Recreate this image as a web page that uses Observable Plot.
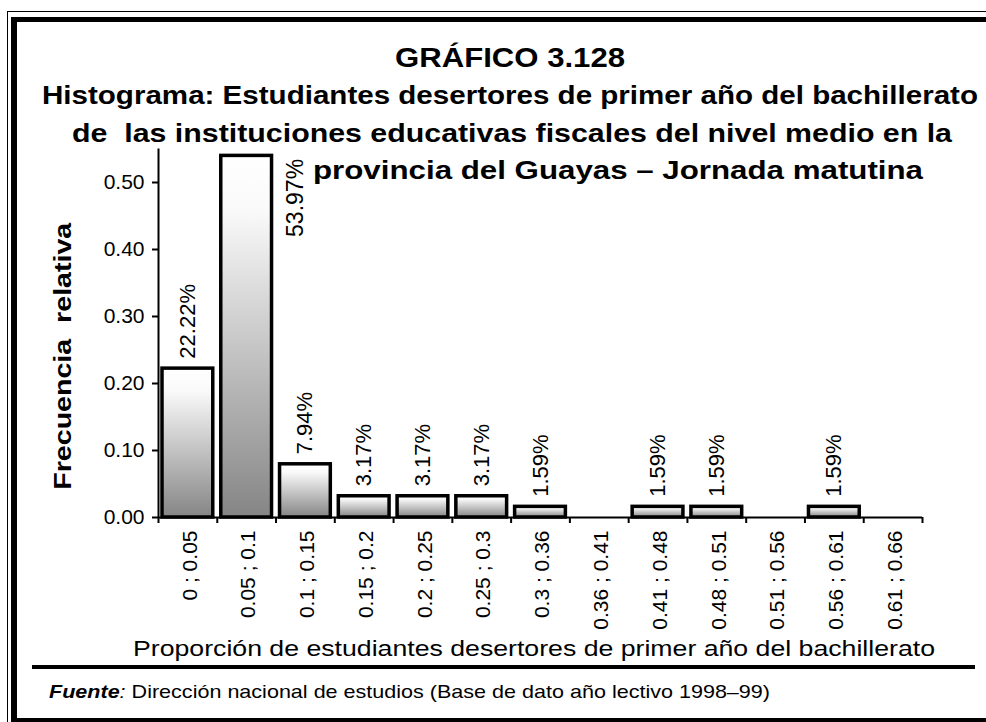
<!DOCTYPE html>
<html><head><meta charset="utf-8">
<script src="https://cdn.jsdelivr.net/npm/d3@7"></script>
<script src="https://cdn.jsdelivr.net/npm/@observablehq/plot@0.6"></script>
<style>
html,body{margin:0;padding:0;background:#fff}
#wrap{position:relative;width:986px;height:722px;overflow:hidden;background:#fff;font-family:"Liberation Sans",Arial,sans-serif;color:#000}
#chart{position:absolute;left:0;top:0}
.txt{position:absolute;white-space:pre;transform-origin:0 0;margin:0}
.fr{position:absolute;box-sizing:border-box;pointer-events:none}
</style></head>
<body>
<div id="wrap">
  <div id="chart"></div>
  <div class="fr" style="left:7px;top:11px;width:1200px;height:900px;border-left:1.5px solid #000;border-top:1.5px solid #000"></div>
  <div class="fr" style="left:11px;top:17px;width:1200px;height:707px;border:6px solid #000;border-top-width:5px"></div>
  <div class="fr" style="left:32px;top:665px;width:943px;height:4px;background:#000"></div>
  <div id="t1" class="txt" style="font-weight:bold"></div>
  <div id="t2" class="txt" style="font-weight:bold"></div>
  <div id="t3" class="txt" style="font-weight:bold"></div>
  <div id="t4" class="txt" style="font-weight:bold"></div>
  <div id="xlab" class="txt"></div>
  <div id="src" class="txt"></div>
</div>
<script>
// ---- data ----
const categories = ["0 ; 0.05","0.05 ; 0.1","0.1 ; 0.15","0.15 ; 0.2","0.2 ; 0.25","0.25 ; 0.3","0.3 ; 0.36","0.36 ; 0.41","0.41 ; 0.48","0.48 ; 0.51","0.51 ; 0.56","0.56 ; 0.61","0.61 ; 0.66"];
const frequencies = [0.2222,0.5397,0.0794,0.0317,0.0317,0.0317,0.0159,0,0.0159,0.0159,0,0.0159,0];
const yTicks = [0,0.1,0.2,0.3,0.4,0.5];
const yMax = 0.55;
const titleLines = [
  "GRÁFICO 3.128",
  "Histograma: Estudiantes desertores de primer año del bachillerato",
  "de  las instituciones educativas fiscales del nivel medio en la",
  "provincia del Guayas – Jornada matutina"
];
const xTitle = "Proporción de estudiantes desertores de primer año del bachillerato";
const yTitle = "Frecuencia\u00a0 relativa";
const sourceLead = "Fuente";
const sourceText = " Dirección nacional de estudios (Base de dato año lectivo 1998–99)";

// ---- table ----
const bins = categories.map((label, i) => ({i, label, value: frequencies[i]}));
const n = categories.length;
const pct = d3.format(".2%");
const maxBin = bins.reduce((a, b) => (b.value > a.value ? b : a));

const gradient = () => {
  const defs = d3.create("svg:defs");
  const g = defs.append("linearGradient").attr("id", "barGrad").attr("x1", 0).attr("y1", 0).attr("x2", 0).attr("y2", 1);
  g.append("stop").attr("offset", "0%").attr("stop-color", "#ffffff");
  g.append("stop").attr("offset", "15%").attr("stop-color", "#fafafa");
  g.append("stop").attr("offset", "100%").attr("stop-color", "#858585");
  return defs.node();
};

const chart = Plot.plot({
  width: 986,
  height: 722,
  marginLeft: 158,
  marginRight: 64,
  marginTop: 148.5,
  marginBottom: 205,
  style: {fontFamily: "'Liberation Sans', Arial, sans-serif", fontSize: "21px", color: "#000", background: "transparent", overflow: "visible"},
  x: {type: "linear", domain: [0, n]},
  y: {domain: [0, yMax]},
  marks: [
    gradient,
    Plot.rect(bins.filter(d => d.value > 0), {
      x1: "i", x2: d => d.i + 1, y1: 0, y2: "value",
      insetLeft: 4, insetRight: 4,
      fill: "url(#barGrad)", stroke: "#000", strokeWidth: 3.5
    }),
    Plot.ruleY([0], {stroke: "#000", strokeWidth: 2}),
    Plot.ruleX([0], {stroke: "#000", strokeWidth: 2}),
    Plot.axisY(yTicks, {tickFormat: d3.format(".2f"), tickSize: 6, tickPadding: 8, fontSize: 21, strokeWidth: 2, label: null}),
    Plot.axisX(d3.range(n + 1), {tickSize: 6, tickFormat: () => "", strokeWidth: 2, label: null}),
    Plot.text(bins, {x: d => d.i + 0.5, y: 0, text: "label", rotate: -90, textAnchor: "end", dy: 13, dx: 2, fontSize: 21}),
    Plot.text(bins.filter(d => d.value > 0 && d !== maxBin), {
      x: d => d.i + 0.5, y: "value", text: d => pct(d.value), rotate: -90, textAnchor: "start", dy: -10, fontSize: 22
    }),
    Plot.text([maxBin], {
      x: d => d.i + 0.5, y: "value", text: d => pct(d.value), rotate: -90, textAnchor: "end", dx: 49, dy: 3, fontSize: 23
    }),
    Plot.text([yTitle], {frameAnchor: "left", textAnchor: "middle", rotate: -90, dx: -95, dy: 23, fontWeight: "bold", fontSize: 24})
  ]
});
document.getElementById("chart").appendChild(chart);
// stretch the axis title along its length like the reference's wide face
for (const t of chart.querySelectorAll("text")) {
  if (t.textContent === yTitle) {
    t.setAttribute("textLength", 267);
    t.setAttribute("lengthAdjust", "spacingAndGlyphs");
  }
}

function fit(id, text, left, right, baseline, size) {
  const el = document.getElementById(id);
  if (text !== null) el.textContent = text;
  el.style.fontSize = size + "px";
  el.style.lineHeight = size + "px";
  el.style.left = left + "px";
  el.style.top = (baseline - 0.8465 * size) + "px";
  const w = el.getBoundingClientRect().width;
  el.style.transform = `scaleX(${(right - left) / w})`;
}
const src = document.getElementById("src");
const b = document.createElement("span");
b.style.fontWeight = "bold"; b.style.fontStyle = "italic"; b.textContent = sourceLead;
const colon = document.createElement("span");
colon.style.fontStyle = "italic"; colon.textContent = ":";
src.appendChild(b); src.appendChild(colon); src.appendChild(document.createTextNode(sourceText));

fit("t1", titleLines[0], 395, 625, 68, 27);
fit("t2", titleLines[1], 42, 978, 104, 26);
fit("t3", titleLines[2], 72, 952, 142, 26);
fit("t4", titleLines[3], 313, 923, 179, 26);
fit("xlab", xTitle, 133, 935, 657, 22);
fit("src", null, 49, 770, 698, 19);
</script>
</body></html>
